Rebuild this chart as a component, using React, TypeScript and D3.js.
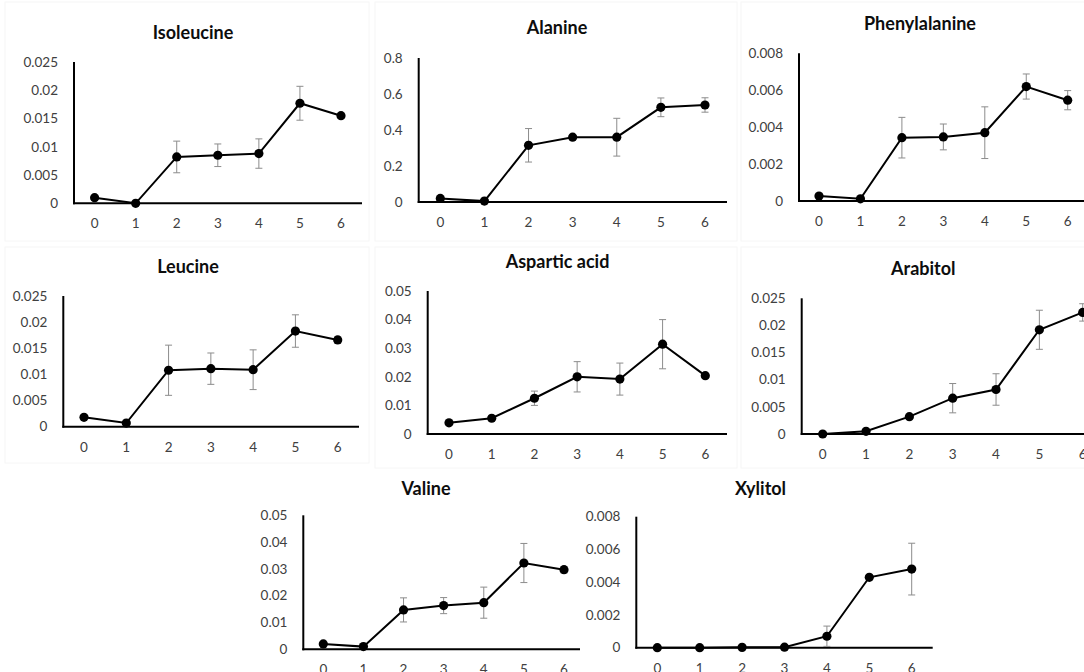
import React from "react";
import * as d3 from "d3";

// ---------- data ----------
const categories = ["0", "1", "2", "3", "4", "5", "6"];

const isoleucineMean = [0.001, 0.0, 0.0082, 0.0085, 0.0088, 0.0177, 0.0155];
const isoleucineErr = [0.0003, 0.0, 0.0028, 0.002, 0.0026, 0.003, 0.0004];

const alanineMean = [0.02, 0.005, 0.315, 0.36, 0.36, 0.526, 0.539];
const alanineErr = [0.01, 0.003, 0.093, 0.01, 0.105, 0.052, 0.04];

const phenylalanineMean = [0.00027, 0.00012, 0.00343, 0.00347, 0.0037, 0.0062, 0.00546];
const phenylalanineErr = [0.0001, 0.00005, 0.0011, 0.0007, 0.0014, 0.00068, 0.00052];

const leucineMean = [0.0018, 0.0007, 0.0108, 0.0111, 0.0109, 0.0183, 0.0166];
const leucineErr = [0.0002, 0.0002, 0.0048, 0.003, 0.0038, 0.0031, 0.0006];

const asparticMean = [0.0039, 0.0055, 0.0125, 0.02, 0.0192, 0.0314, 0.0204];
const asparticErr = [0.0003, 0.0003, 0.0025, 0.0053, 0.0056, 0.0086, 0.0007];

const arabitolMean = [0.0, 0.0005, 0.0032, 0.0066, 0.0082, 0.0192, 0.0224];
const arabitolErr = [0.0001, 0.0002, 0.0002, 0.0027, 0.0029, 0.0036, 0.0016];

const valineMean = [0.002, 0.001, 0.0147, 0.0163, 0.0174, 0.0322, 0.0297];
const valineErr = [0.0002, 0.0002, 0.0045, 0.003, 0.0058, 0.0073, 0.0012];

const xylitolMean = [0.0, 0.0, 0.00002, 0.00003, 0.0007, 0.0043, 0.0048];
const xylitolErr = [0.0, 0.0, 0.0, 0.0, 0.00062, 0.0001, 0.00158];

const ticks025 = [0, 0.005, 0.01, 0.015, 0.02, 0.025];
const ticks08 = [0, 0.2, 0.4, 0.6, 0.8];
const ticks008 = [0, 0.002, 0.004, 0.006, 0.008];
const ticks05 = [0, 0.01, 0.02, 0.03, 0.04, 0.05];

const titles = [
  "Isoleucine",
  "Alanine",
  "Phenylalanine",
  "Leucine",
  "Aspartic acid",
  "Arabitol",
  "Valine",
  "Xylitol",
];
const means = [
  isoleucineMean,
  alanineMean,
  phenylalanineMean,
  leucineMean,
  asparticMean,
  arabitolMean,
  valineMean,
  xylitolMean,
];
const errs = [
  isoleucineErr,
  alanineErr,
  phenylalanineErr,
  leucineErr,
  asparticErr,
  arabitolErr,
  valineErr,
  xylitolErr,
];
const tickSets = [ticks025, ticks08, ticks008, ticks025, ticks05, ticks025, ticks05, ticks008];

// ---------- layout (positions only) ----------
type Layout = {
  ax: number; // y axis x
  top: number; // y of max tick
  base: number; // y of zero
  x0: number; // first category x
  x6: number; // last category x
  end: number; // x axis end
  tx: number; // title center x
  ty: number; // title baseline
};
const layouts: Layout[] = [
  { ax: 74, top: 62, base: 203.3, x0: 94.6, x6: 341, end: 362, tx: 193, ty: 39 },
  { ax: 418.7, top: 58, base: 202, x0: 440.3, x6: 705, end: 727, tx: 557, ty: 34 },
  { ax: 799, top: 53.3, base: 201, x0: 819, x6: 1067.7, end: 1090, tx: 920, ty: 30 },
  { ax: 63.3, top: 296, base: 426.7, x0: 84, x6: 337.7, end: 359, tx: 188, ty: 273 },
  { ax: 427.7, top: 291, base: 434, x0: 449, x6: 705.3, end: 727, tx: 557.5, ty: 268 },
  { ax: 801.7, top: 298.3, base: 434, x0: 822.7, x6: 1082.7, end: 1090, tx: 923.3, ty: 275 },
  { ax: 303.3, top: 515.3, base: 649.3, x0: 323.3, x6: 564, end: 580, tx: 426, ty: 495 },
  { ax: 636.3, top: 516.7, base: 647.7, x0: 657.3, x6: 911.7, end: 932.7, tx: 760.5, ty: 495 },
];

const frames = [
  [5, 2, 364, 239],
  [375, 2, 362, 239],
  [741, 2, 350, 239],
  [5, 247, 364, 216],
  [375, 247, 362, 221],
  [741, 247, 350, 221],
];

const FONT = "Lato, 'Open Sans', 'DejaVu Sans', sans-serif";
const fmt = (v: number) => String(parseFloat(v.toFixed(6)));

function Panel({ idx }: { idx: number }) {
  const L = layouts[idx];
  const mean = means[idx];
  const err = errs[idx];
  const ticks = tickSets[idx];
  const yMax = ticks[ticks.length - 1];
  const y = d3.scaleLinear().domain([0, yMax]).range([L.base, L.top]);
  const x = d3.scalePoint<string>().domain(categories).range([L.x0, L.x6]);
  const pts = categories.map((c, i) => [x(c) as number, y(mean[i])] as [number, number]);
  const path = d3.line()(pts) || "";
  return (
    <g>
      <text
        x={L.tx}
        y={L.ty}
        textAnchor="middle"
        fontFamily={FONT}
        fontWeight="bold"
        fontSize={18}
        fill="#0d0d0d"
      >
        {titles[idx]}
      </text>
      {ticks.map((t) => (
        <text
          key={t}
          x={L.ax - 16}
          y={y(t)}
          dy="0.35em"
          textAnchor="end"
          fontFamily={FONT}
          fontSize={13.5}
          fill="#404040"
        >
          {fmt(t)}
        </text>
      ))}
      {categories.map((c) => (
        <text
          key={c}
          x={x(c)}
          y={L.base + 25}
          textAnchor="middle"
          fontFamily={FONT}
          fontSize={13.5}
          fill="#404040"
        >
          {c}
        </text>
      ))}
      <line x1={L.ax} x2={L.ax} y1={y(yMax)} y2={L.base + 1} stroke="#000" strokeWidth={2} />
      <line x1={L.ax - 1} x2={L.end} y1={L.base} y2={L.base} stroke="#000" strokeWidth={2} />
      {categories.map((c, i) => {
        if (err[i] <= 0) return null;
        const cx = x(c) as number;
        const yt = y(mean[i] + err[i]);
        const yb = y(Math.max(0, mean[i] - err[i]));
        return (
          <g key={c} stroke="#8c8c8c" strokeWidth={1}>
            <line x1={cx} x2={cx} y1={yt} y2={yb} />
            <line x1={cx - 3.5} x2={cx + 3.5} y1={yt} y2={yt} />
            <line x1={cx - 3.5} x2={cx + 3.5} y1={yb} y2={yb} />
          </g>
        );
      })}
      <path d={path} fill="none" stroke="#000" strokeWidth={2} />
      {pts.map((p, i) => (
        <circle key={i} cx={p[0]} cy={p[1]} r={4.6} fill="#000" />
      ))}
    </g>
  );
}

export default function App() {
  return (
    <svg
      width={1084}
      height={672}
      style={{ position: "fixed", left: 0, top: 0, display: "block", background: "#fff" }}
    >
      <rect x={0} y={0} width={1084} height={672} fill="#fff" />
      {frames.map((f, i) => (
        <rect key={i} x={f[0]} y={f[1]} width={f[2]} height={f[3]} fill="none" stroke="#f6f6f6" strokeWidth={1} />
      ))}
      {titles.map((_, i) => (
        <Panel key={i} idx={i} />
      ))}
    </svg>
  );
}
